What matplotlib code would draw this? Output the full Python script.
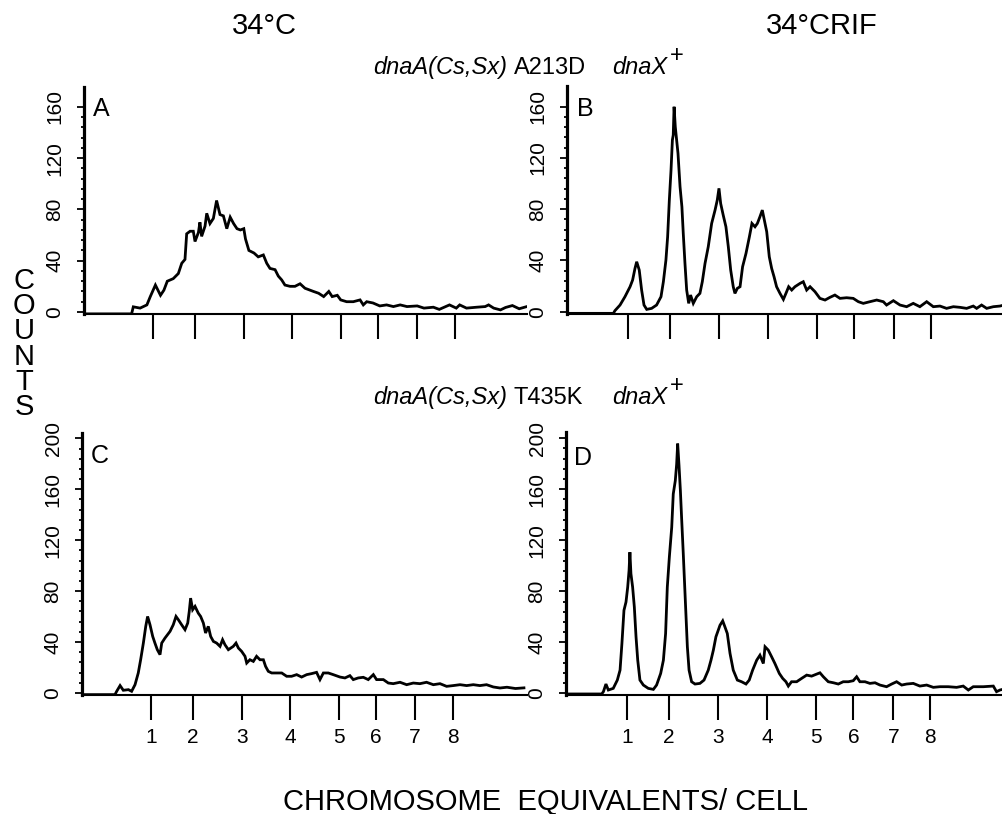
import matplotlib
matplotlib.use('Agg')
import matplotlib.pyplot as plt
from matplotlib.ticker import FixedLocator

# ---------------- data (flow-cytometry channel vs counts) ----------------
A_ch = [0, 28, 29, 33, 37, 39, 42, 45, 47, 49,
        52.5, 55.5, 57.5, 59.4, 60.4, 62.4, 64.3, 65.3, 67.3, 68.2,
        69.2, 71.2, 72.2, 74.1, 76.1, 78, 80, 82, 84, 86,
        88, 90, 92, 94, 95, 97, 100, 102.5, 105.5, 107.5,
        109.4, 112.4, 114.3, 116.3, 118.2, 121.2, 124.1, 127.1, 130, 133,
        135, 138, 141, 144, 146, 149, 151, 154.5, 158.4, 162.4,
        164.3, 166.3, 170, 174, 178, 182, 186, 190, 196, 200,
        205.5, 209, 215, 219, 221, 225, 231, 236, 238, 241,
        245, 248, 252, 256, 260]
A_cnt = [-1.5, -1.5, 4, 3, 5.5, 12, 21, 13, 17, 24,
         26, 30, 38, 41, 61, 63, 63, 55, 62, 70,
         59, 67, 77, 69, 73, 87, 76, 75, 65, 74,
         69, 65, 64, 65, 57, 48, 46, 43, 44.5, 38,
         34, 33, 28, 25, 21, 20, 20, 22, 18.5, 17,
         16, 14.6, 12, 16, 12, 13, 9.4, 8, 8, 9.4,
         5.5, 8, 7, 4.7, 5.5, 4.2, 5.5, 4.2, 4.7, 3,
         3.7, 2, 5.5, 3, 5.5, 3, 3.7, 4.2, 5.5, 3,
         1.6, 3.5, 5, 2.5, 4]

B_ch = [0, 27.3, 28.2, 31.2, 34.1, 37.1, 38.6, 40.0, 41.0, 42.5,
        43.9, 45.3, 46.9, 49.8, 52.7, 55.3, 56.7, 58.2, 59.2, 60.2,
        61.2, 62.0, 62.5, 63.0, 63.7, 64.5, 65.3, 66.5, 67.6, 68.4,
        69.4, 70.4, 71.6, 72.7, 74.3, 76.3, 78.2, 79.6, 81.2, 83.1,
        85.1, 87.1, 88.4, 89.4, 90.4, 91.9, 93.5, 94.9, 96.3, 97.8,
        98.8, 100.2, 101.8, 103.3, 105.3, 107.3, 108.8, 110.6, 112.0, 113.5,
        114.9, 116.1, 117.5, 119.0, 120.4, 121.8, 123.3, 125.3, 127.3, 128.8,
        130.4, 132.2, 134.1, 137.1, 139.0, 141.0, 143.0, 145.9, 148.8, 151.8,
        154.7, 157.6, 160.6, 164.5, 168.4, 171.4, 174.3, 178.2, 182.2, 186.1,
        188.0, 192.0, 195.9, 199.8, 203.7, 207.6, 211.6, 215.5, 219.4, 223.3,
        227.3, 231.2, 235.1, 239.0, 241.0, 243.9, 246.9, 250.8, 254.7, 256.5]
B_cnt = [-1.3, -1.3, 0.8, 5.2, 11.7, 19.5, 24.7, 33.8, 39.0, 32.5,
         16.9, 5.2, 1.8, 2.6, 5.2, 11.7, 23.4, 40.3, 58.5, 87.1,
         110.6, 134.0, 137.9, 160.0, 144.4, 134.0, 123.6, 97.6, 81.9, 61.1,
         37.7, 16.9, 6.5, 13.0, 6.5, 11.7, 14.3, 23.4, 37.7, 50.7,
         68.9, 79.3, 87.1, 96.3, 84.5, 75.4, 66.3, 50.7, 32.5, 19.5,
         14.3, 18.2, 19.5, 35.1, 45.5, 58.5, 68.9, 66.3, 68.9, 74.1,
         79.3, 71.5, 62.4, 42.9, 33.8, 27.3, 19.5, 14.3, 9.6, 14.3,
         19.5, 16.9, 19.5, 22.1, 23.4, 16.9, 19.5, 15.6, 10.4, 9.1,
         11.2, 13.0, 10.4, 10.9, 10.4, 7.8, 6.5, 7.8, 9.1, 7.8,
         5.2, 8.6, 5.2, 3.9, 6.5, 3.9, 7.8, 3.9, 4.4, 2.6,
         3.9, 3.4, 2.6, 4.4, 2.6, 5.2, 2.6, 3.9, 4.4, 5.0]

C_ch = [0, 19.4, 20.4, 22.4, 24.3, 27.3, 29.2, 31.2, 33.1, 34.5,
        36.1, 37.5, 38.6, 40.0, 41.6, 42.9, 44.3, 45.9, 46.9, 48.8,
        51.8, 53.7, 55.3, 56.7, 58.6, 60.6, 62.2, 63.1, 63.9, 65.1,
        66.5, 68.4, 69.8, 71.4, 72.7, 74.3, 75.7, 77.3, 79.2, 81.2,
        82.7, 84.1, 86.1, 89.0, 90.6, 92.0, 93.9, 95.9, 96.9, 98.8,
        100.8, 102.7, 104.7, 106.7, 108.0, 109.6, 111.6, 114.5, 117.5, 120.4,
        123.3, 126.3, 129.2, 132.2, 135.1, 138.0, 140.0, 142.0, 144.9, 147.8,
        151.8, 154.7, 157.6, 159.6, 162.5, 165.5, 168.4, 171.4, 173.3, 177.3,
        180.2, 183.1, 187.1, 191.0, 194.9, 198.8, 202.7, 206.7, 210.6, 214.5,
        218.4, 222.4, 226.3, 230.2, 234.1, 238.0, 242.0, 245.9, 250, 255,
        260]
C_cnt = [-1.3, -1.3, 1.3, 5.8, 2.1, 2.6, 1.3, 6.5, 15.7, 26.1,
         39.2, 52.3, 60.1, 53.6, 44.4, 39.2, 34.0, 30.1, 39.2, 43.1,
         48.4, 53.6, 60.1, 57.5, 53.6, 49.7, 54.9, 64.1, 74.5, 65.4,
         68.0, 62.7, 60.1, 54.9, 47.1, 52.3, 44.4, 40.5, 39.2, 36.6,
         41.8, 37.9, 34.0, 36.6, 39.2, 35.3, 32.7, 28.8, 23.5, 26.1,
         24.8, 28.8, 26.1, 26.1, 20.9, 17.0, 15.7, 15.7, 15.7, 13.1,
         13.1, 14.4, 12.5, 14.4, 15.2, 16.2, 10.5, 15.7, 15.7, 14.4,
         12.5, 11.8, 13.6, 10.5, 11.8, 12.3, 10.5, 14.4, 10.5, 10.5,
         7.8, 7.3, 8.4, 6.5, 7.8, 7.3, 8.4, 6.5, 7.3, 5.2,
         5.8, 6.5, 5.8, 6.5, 5.8, 6.5, 4.7, 3.9, 4.5, 3.5,
         4.0]

D_ch = [0, 21.0, 22.0, 23.5, 24.9, 27.8, 30.2, 31.8, 32.9, 34.1,
        35.3, 36.3, 37.1, 37.6, 38.2, 39.2, 40.2, 41.2, 42.2, 43.5,
        45.5, 48.4, 51.4, 53.3, 55.7, 57.3, 58.6, 59.6, 60.8, 62.2,
        63.1, 64.3, 65.1, 65.7, 66.5, 67.3, 68.0, 69.0, 70.2, 71.4,
        72.4, 73.9, 75.9, 78.8, 81.2, 83.7, 85.3, 86.7, 88.2, 90.6,
        92.2, 93.5, 94.9, 96.5, 98.4, 100.8, 103.3, 105.9, 107.8, 109.8,
        112.2, 114.1, 116.1, 117.1, 119.0, 121.0, 122.9, 125.5, 127.5, 129.4,
        130.8, 132.7, 135.7, 138.6, 141.6, 144.5, 147.5, 149.4, 151.4, 154.3,
        157.3, 160.2, 163.1, 166.1, 169.0, 171.0, 172.9, 175.9, 178.8, 181.8,
        184.7, 188.6, 191.6, 194.5, 197.5, 200.4, 204.3, 208.2, 212.2, 216.1,
        220.0, 224.9, 229.8, 233.7, 236.7, 239.6, 245.5, 251.4, 253.3, 255.3,
        256.5]
D_cnt = [-0.5, -0.5, 1.3, 7.3, 2.6, 3.9, 10.4, 18.2, 39.1, 65.1,
         71.6, 83.3, 96.4, 110.7, 93.8, 83.3, 67.7, 44.3, 26.0, 10.4,
         6.5, 3.9, 3.1, 6.5, 15.6, 26.0, 46.9, 83.3, 106.8, 130.2,
         156.3, 166.7, 179.7, 195.8, 178.4, 158.9, 138.0, 109.4, 72.9, 36.5,
         18.2, 9.1, 7.3, 7.8, 10.4, 18.2, 26.0, 33.9, 44.3, 53.4,
         56.8, 52.1, 46.9, 31.3, 18.2, 10.4, 9.1, 7.3, 10.4, 18.2,
         26.0, 29.9, 23.4, 36.5, 33.9, 28.6, 23.4, 15.6, 11.7, 9.1,
         5.7, 9.1, 9.1, 11.7, 14.3, 13.5, 15.1, 16.1, 13.0, 9.1,
         8.3, 7.3, 9.1, 9.1, 9.9, 13.0, 9.1, 9.1, 7.8, 8.3,
         6.5, 5.2, 7.3, 9.1, 6.5, 7.3, 7.8, 5.7, 6.5, 4.7,
         5.2, 5.2, 4.7, 5.7, 2.6, 5.2, 5.2, 5.7, 1.3, 2.6,
         3.0]

# chromosome-equivalent tick positions (channel) and labels
left_tick_ch = [40.6, 65.3, 94.1, 122.4, 151.2, 172.9, 195.9, 218.2]
right_tick_ch = [35.9, 60.6, 89.7, 118.2, 147.1, 169.1, 192.6, 214.4]
x_tick_labels = ['1', '2', '3', '4', '5', '6', '7', '8']

top_y_major = [0, 40, 80, 120, 160]
bot_y_major = [0, 40, 80, 120, 160, 200]

col_titles = ['34°C', '34°CRIF']
strain_gene = 'dnaA(Cs,Sx)'
strain_alleles = ['A213D', 'T435K']
strain_partner = 'dnaX'
panel_letters = ['A', 'B', 'C', 'D']
y_title = 'COUNTS'
x_title = 'CHROMOSOME  EQUIVALENTS/ CELL'

# ---------------- figure ----------------
plt.rcParams['font.family'] = ['Liberation Sans', 'DejaVu Sans']

W, H = 1003, 814
fig = plt.figure(figsize=(W / 100, H / 100), dpi=100)


def rect(l, t, r, b):
    return [l / W, 1 - b / H, (r - l) / W, (b - t) / H]


def fx(x):
    return x / W


def fy(y):
    return 1 - y / H


panels = [
    dict(r=rect(84, 87, 527, 314), xmax=260.6, ylim=(-1.6, 175.6), ch=A_ch, cnt=A_cnt,
         ticks=left_tick_ch, major=top_y_major, labels=False, letter=(93, 97)),
    dict(r=rect(567, 86, 1003, 314), xmax=256.5, ylim=(-1.8, 176.2), ch=B_ch, cnt=B_cnt,
         ticks=right_tick_ch, major=top_y_major, labels=False, letter=(577, 97)),
    dict(r=rect(82, 433, 527, 695), xmax=261.8, ylim=(-1.6, 204.2), ch=C_ch, cnt=C_cnt,
         ticks=left_tick_ch, major=bot_y_major, labels=True, letter=(91, 444)),
    dict(r=rect(566, 432, 1003, 695), xmax=257.1, ylim=(-1.3, 204.9), ch=D_ch, cnt=D_cnt,
         ticks=right_tick_ch, major=bot_y_major, labels=True, letter=(574, 446)),
]

for p, letter in zip(panels, panel_letters):
    ax = fig.add_axes(p['r'])
    ax.plot(p['ch'], p['cnt'], color='black', lw=2.0, solid_joinstyle='miter')
    ax.set_xlim(0, p['xmax'])
    ax.set_ylim(*p['ylim'])
    for s in ('top', 'right'):
        ax.spines[s].set_visible(False)
    ax.spines['left'].set_linewidth(2.3)
    ax.spines['bottom'].set_linewidth(1.5)
    ax.set_facecolor('none')

    ax.set_xticks(p['ticks'])
    if p['labels']:
        ax.set_xticklabels(x_tick_labels)
    else:
        ax.tick_params(axis='x', labelbottom=False)
    ax.tick_params(axis='x', direction='out', length=18, width=1.5, pad=6,
                   labelsize=15, color='black')

    ax.set_yticks(p['major'])
    ax.set_yticklabels([str(v) for v in p['major']], rotation=90, va='center')
    minors = [v for v in range(0, p['major'][-1] + 1, 8) if v not in p['major']]
    ax.yaxis.set_minor_locator(FixedLocator(minors))
    ax.tick_params(axis='y', which='major', direction='out', length=5, width=1.3,
                   pad=9, labelsize=15)
    ax.tick_params(axis='y', which='minor', direction='out', length=2.5, width=1.3)

    lx, ly = p['letter']
    fig.text(fx(lx), fy(ly), letter, ha='left', va='top', fontsize=18)

# column titles
fig.text(fx(264), fy(26), col_titles[0], ha='center', va='center', fontsize=21)
fig.text(fx(822), fy(26), col_titles[1], ha='center', va='center', fontsize=21)

# strain rows: italic gene, roman allele, italic partner with superscript +
for base, allele in zip([74, 404], strain_alleles):
    fig.text(fx(373), fy(base), strain_gene, ha='left', va='baseline',
             fontsize=17, style='italic')
    fig.text(fx(514), fy(base), allele, ha='left', va='baseline', fontsize=17)
    fig.text(fx(612), fy(base), strain_partner, ha='left', va='baseline',
             fontsize=17, style='italic')
    fig.text(fx(670), fy(base - 12), '+', ha='left', va='baseline', fontsize=17)

# stacked y title
fig.text(fx(24), fy(344), '\n'.join(y_title), ha='center', va='center',
         fontsize=21, linespacing=0.88)

fig.text(fx(546), fy(802), x_title, ha='center', va='center', fontsize=21)

fig.savefig('out.png', dpi=100, facecolor='white')
